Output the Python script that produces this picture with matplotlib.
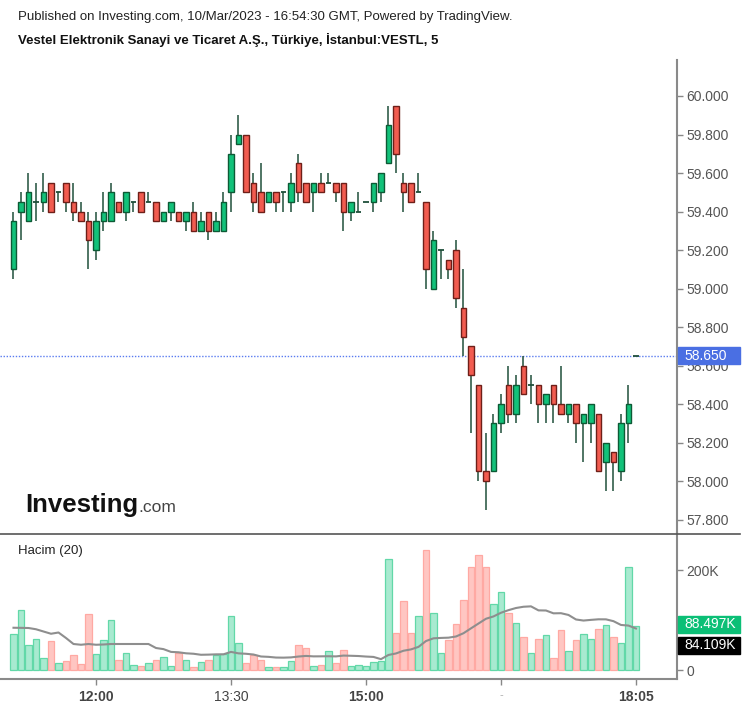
import matplotlib
matplotlib.use('Agg')
import matplotlib.pyplot as plt
import numpy as np
import pandas as pd
from matplotlib.lines import Line2D
from matplotlib.patches import Rectangle

plt.rcParams['font.family'] = ['Liberation Sans', 'DejaVu Sans']

# ---------------- data ----------------
times = [t.strftime('%H:%M') for t in pd.date_range('2023-03-10 11:05', '2023-03-10 17:55', freq='5min')] + ['18:05']

open_ = [59.10, 59.40, 59.35, 59.45, 59.45, 59.55, 59.50, 59.55, 59.45, 59.40,
         59.35, 59.20, 59.35, 59.35, 59.45, 59.40, 59.45, 59.50, 59.45, 59.45,
         59.35, 59.40, 59.40, 59.35, 59.40, 59.30, 59.40, 59.30, 59.30, 59.50,
         59.75, 59.80, 59.55, 59.50, 59.45, 59.50, 59.50, 59.45, 59.65, 59.55,
         59.50, 59.55, 59.55, 59.55, 59.55, 59.40, 59.40, 59.45, 59.45, 59.50,
         59.65, 59.95, 59.55, 59.55, 59.50, 59.45, 59.00, 59.20, 59.15, 59.20,
         58.90, 58.70, 58.50, 58.05, 58.05, 58.30, 58.50, 58.35, 58.60, 58.50,
         58.50, 58.40, 58.50, 58.40, 58.35, 58.40, 58.30, 58.30, 58.35, 58.10,
         58.15, 58.05, 58.30, 58.65]
high = [59.40, 59.50, 59.60, 59.55, 59.60, 59.55, 59.50, 59.55, 59.55, 59.45,
        59.40, 59.40, 59.50, 59.55, 59.45, 59.50, 59.45, 59.50, 59.50, 59.45,
        59.40, 59.45, 59.40, 59.40, 59.45, 59.40, 59.40, 59.40, 59.50, 59.80,
        59.90, 59.80, 59.60, 59.65, 59.50, 59.50, 59.50, 59.60, 59.70, 59.55,
        59.55, 59.60, 59.60, 59.55, 59.55, 59.45, 59.50, 59.45, 59.55, 59.60,
        59.95, 59.95, 59.60, 59.55, 59.60, 59.45, 59.30, 59.20, 59.15, 59.25,
        59.10, 58.70, 58.50, 58.25, 58.35, 58.45, 58.60, 58.55, 58.65, 58.55,
        58.50, 58.45, 58.50, 58.60, 58.40, 58.40, 58.35, 58.40, 58.35, 58.20,
        58.15, 58.35, 58.50, 58.65]
low = [59.05, 59.25, 59.35, 59.35, 59.40, 59.40, 59.45, 59.40, 59.35, 59.35,
       59.10, 59.15, 59.30, 59.35, 59.40, 59.35, 59.40, 59.40, 59.45, 59.35,
       59.35, 59.35, 59.35, 59.30, 59.30, 59.30, 59.25, 59.30, 59.30, 59.40,
       59.75, 59.50, 59.40, 59.40, 59.45, 59.40, 59.40, 59.40, 59.45, 59.45,
       59.40, 59.50, 59.55, 59.45, 59.30, 59.35, 59.40, 59.45, 59.40, 59.45,
       59.65, 59.60, 59.40, 59.45, 59.50, 59.00, 59.00, 59.05, 59.05, 58.90,
       58.65, 58.25, 58.00, 57.85, 58.05, 58.25, 58.30, 58.30, 58.45, 58.40,
       58.30, 58.30, 58.30, 58.35, 58.30, 58.20, 58.10, 58.20, 58.05, 57.95,
       57.95, 58.00, 58.20, 58.65]
close = [59.35, 59.45, 59.50, 59.45, 59.50, 59.40, 59.50, 59.45, 59.40, 59.35,
         59.25, 59.35, 59.40, 59.50, 59.40, 59.50, 59.45, 59.40, 59.45, 59.35,
         59.40, 59.45, 59.35, 59.40, 59.30, 59.35, 59.30, 59.35, 59.45, 59.70,
         59.80, 59.50, 59.45, 59.40, 59.50, 59.45, 59.50, 59.55, 59.50, 59.45,
         59.55, 59.50, 59.55, 59.50, 59.40, 59.45, 59.40, 59.45, 59.55, 59.60,
         59.85, 59.70, 59.50, 59.45, 59.50, 59.10, 59.25, 59.20, 59.10, 58.95,
         58.75, 58.55, 58.05, 58.00, 58.30, 58.40, 58.35, 58.50, 58.45, 58.50,
         58.40, 58.45, 58.40, 58.35, 58.40, 58.30, 58.35, 58.40, 58.05, 58.20,
         58.10, 58.30, 58.40, 58.65]
# volume in thousands
volume = [72, 120, 50, 62, 25, 58, 15, 19, 30, 12,
          113, 32, 60, 100, 21, 35, 11, 9, 15, 21,
          27, 9, 35, 21, 7, 17, 21, 30, 32, 108,
          55, 15, 30, 21, 7, 7, 7, 19, 50, 45,
          9, 11, 38, 15, 40, 9, 11, 9, 17, 19,
          223, 75, 138, 75, 108, 241, 115, 35, 60, 92,
          140, 206, 231, 206, 133, 156, 115, 95, 67, 35,
          62, 70, 25, 80, 38, 60, 72, 62, 83, 90,
          67, 55, 206, 88.497]
# volume MA(20) for the first bars (earlier bars are off-chart)
ma_head = [84.5, 84.3, 84.0, 81.5, 77.0, 72.5, 75.0, 64.0, 52.0, 50.5,
           52.0, 50.5, 51.0, 52.0, 52.0, 52.0, 52.0, 52.0, 52.0]

price_ticks = [57.8, 58.0, 58.2, 58.4, 58.6, 58.8, 59.0, 59.2, 59.4, 59.6, 59.8, 60.0]
vol_ticks = [0, 100, 200]
vol_tick_labels = ['0', '', '200K']
time_ticks = ['12:00', '13:30', '15:00', '16:30', '18:05']
time_tick_text = ['12:00', '13:30', '15:00', '-', '18:05']
time_tick_bold = [True, False, True, False, True]
last_price = 58.650
last_vol_label = '88.497K'
ma_label = '84.109K'

header = 'Published on Investing.com, 10/Mar/2023 - 16:54:30 GMT, Powered by TradingView.'
title = 'Vestel Elektronik Sanayi ve Ticaret A.Ş., Türkiye, İstanbul:VESTL, 5'

# ---------------- figure ----------------
W, H = 747, 707
fig = plt.figure(figsize=(W / 100, H / 100), dpi=100)
fig.patch.set_facecolor('white')

def fx(px):
    return px / W

def fy(py):
    return 1 - py / H

ax = fig.add_axes([0, fy(533), fx(677), (533 - 60) / H])
axv = fig.add_axes([0, fy(679), fx(677), (679 - 533) / H], sharex=ax)

o = np.array(open_); h = np.array(high); l = np.array(low); c = np.array(close)
v = np.array(volume)
idx = np.arange(len(o))
up = c >= o

UP_FILL, UP_EDGE = '#12c27a', '#0d5a35'
DN_FILL, DN_EDGE = '#f25c50', '#6e1f19'
WICK = '#1f4f3a'

ax.vlines(idx, l, h, color=WICK, lw=1.1, zorder=2)
body = np.abs(c - o)
lo = np.minimum(o, c)
m = body > 1e-9
ax.bar(idx[m], body[m], bottom=lo[m], width=0.7,
       color=np.where(up[m], UP_FILL, DN_FILL),
       edgecolor=np.where(up[m], UP_EDGE, DN_EDGE), lw=1.0, zorder=3)
d = ~m
ax.hlines(c[d], idx[d] - 0.38, idx[d] + 0.38, color=WICK, lw=1.3, zorder=3)

# last price line
ax.axhline(last_price, color='#5b7cf0', lw=1.0, ls=(0, (1, 1.2)), zorder=1)

ax.set_xlim(-1.8, 88.47)
ax.set_ylim(57.730, 60.187)
ax.yaxis.tick_right()
ax.set_yticks(price_ticks)
ax.set_yticklabels([f'{p:.3f}' for p in price_ticks])
ax.tick_params(axis='y', direction='out', length=4, width=1, color='#888888',
               labelcolor='#555555', labelsize=10, pad=3)
ax.tick_params(axis='x', bottom=False, labelbottom=False)
for s in ['top', 'left', 'bottom']:
    ax.spines[s].set_visible(False)
ax.spines['right'].set_color('#8a8a8a')
ax.spines['right'].set_linewidth(1.5)

# Investing.com logo
ax.text(fx(25) / fx(677), 0.045, 'Investing', transform=ax.transAxes, fontsize=18.5,
        fontweight='bold', color='#111111', ha='left', va='baseline')
ax.text(fx(138) / fx(677), 0.045, '.com', transform=ax.transAxes, fontsize=12.5,
        color='#444444', ha='left', va='baseline')

# ---------------- volume pane ----------------
axv.bar(idx, v, width=0.88, color=np.where(up, '#a8ead0', '#ffc6c2'),
        edgecolor=np.where(up, '#62d8a8', '#ffa9a3'), lw=0.9, zorder=2)
ma = pd.Series(v).rolling(20).mean().to_numpy()
ma[:len(ma_head)] = ma_head
axv.plot(idx, ma, color='#8e8e8e', lw=1.5, zorder=3)

axv.set_ylim(-18, 274)
axv.yaxis.tick_right()
axv.set_yticks(vol_ticks)
axv.set_yticklabels(vol_tick_labels)
axv.tick_params(axis='y', direction='out', length=4, width=1, color='#888888',
                labelcolor='#555555', labelsize=10, pad=3)
pos = [times.index(t) for t in time_ticks]
axv.set_xticks(pos)
axv.set_xticklabels(time_tick_text)
axv.tick_params(axis='x', direction='out', length=4, width=1, color='#888888',
                labelcolor='#444444', labelsize=10, pad=4)
for lab, b in zip(axv.get_xticklabels(), time_tick_bold):
    if b:
        lab.set_fontweight('bold')
    else:
        if lab.get_text() == '-':
            lab.set_color('#aaaaaa')
            lab.set_fontsize(8)
for s in ['top', 'left']:
    axv.spines[s].set_visible(False)
for s in ['right', 'bottom']:
    axv.spines[s].set_color('#8a8a8a')
    axv.spines[s].set_linewidth(1.5)

axv.text(fx(18) / fx(677), 0.875, 'Hacim (20)', transform=axv.transAxes,
         fontsize=9.5, color='#222222', ha='left', va='center')

# ---------------- price-scale labels (boxes) ----------------
def scale_label(axis, value, text, fc, dy_px=0.0, box_h=17):
    y_disp = axis.transData.transform((0, value))[1] + dy_px
    y_top_px = H - y_disp  # pixel from top
    x0 = 677.5
    fig.add_artist(Rectangle((fx(x0), fy(y_top_px + box_h / 2)), fx(740) - fx(x0), box_h / H,
                             transform=fig.transFigure, fc=fc, ec=fc, zorder=20))
    fig.text(fx(684), fy(y_top_px), text, fontsize=10, color='white', ha='left',
             va='center', zorder=21)

fig.canvas.draw()
scale_label(ax, last_price, f'{last_price:.3f}', '#4a6fe3', dy_px=0)
scale_label(axv, volume[-1], last_vol_label, '#0bbf76', dy_px=1.5)
scale_label(axv, volume[-1], ma_label, '#000000', dy_px=-19.5)

# pane separator
fig.add_artist(Line2D([0, fx(740)], [fy(533.5), fy(533.5)], color='#555555', lw=1.2))

# header
fig.text(fx(18), fy(17), header, fontsize=9.5, color='#222222', ha='left', va='center')
fig.text(fx(18), fy(40), title, fontsize=9.5, fontweight='bold', color='#111111',
         ha='left', va='center')

fig.savefig('out.png', dpi=100, facecolor='white')
